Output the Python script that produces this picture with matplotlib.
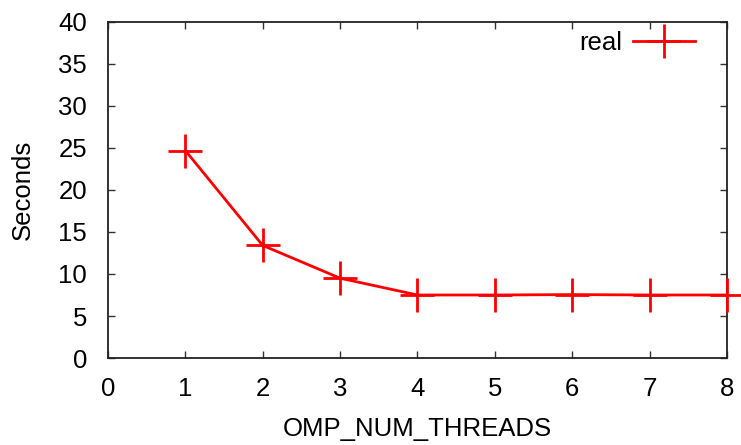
#!/usr/bin/env python3

import matplotlib
matplotlib.use('Agg')
import matplotlib.pyplot as plt

threads = [1, 2, 3, 4, 5, 6, 7, 8]
real = [24.7, 13.4, 9.5, 7.5, 7.5, 7.55, 7.5, 7.5]

x_ticks = [0, 1, 2, 3, 4, 5, 6, 7, 8]
y_ticks = [0, 5, 10, 15, 20, 25, 30, 35, 40]


def main():
    plt.rcParams['font.family'] = ['Liberation Sans', 'DejaVu Sans']
    plt.rcParams['font.size'] = 18.5

    fig = plt.figure(figsize=(7.41, 4.45), dpi=100)
    ax = fig.add_axes([0.1457, 0.1955, 0.8353, 0.7551])

    ax.plot(threads, real, color='#ff0000', linewidth=2.0,
            marker='+', markersize=24, markeredgewidth=2.0,
            label='real', clip_on=False, zorder=3)

    ax.set_xlim(0, 8)
    ax.set_ylim(0, 40)
    ax.set_xticks(x_ticks)
    ax.set_yticks(y_ticks)
    ax.tick_params(direction='in', length=5, width=1, color='#333333',
                   top=True, right=True, labelsize=18.5)
    ax.tick_params(axis='x', pad=14)
    ax.tick_params(axis='y', pad=15)
    for s in ax.spines.values():
        s.set_color('#222222')
        s.set_linewidth(1.3)

    ax.set_xlabel('OMP_NUM_THREADS', fontsize=18.5, labelpad=11)
    ax.set_ylabel('Seconds', fontsize=18.5, labelpad=17)

    ax.legend(loc='upper right', frameon=False, markerfirst=False,
              handlelength=2.4, handletextpad=0.45,
              borderaxespad=0.0, bbox_to_anchor=(0.965, 1.004),
              fontsize=18.5)

    fig.savefig('out.png', dpi=100)


if __name__ == '__main__':
    main()
